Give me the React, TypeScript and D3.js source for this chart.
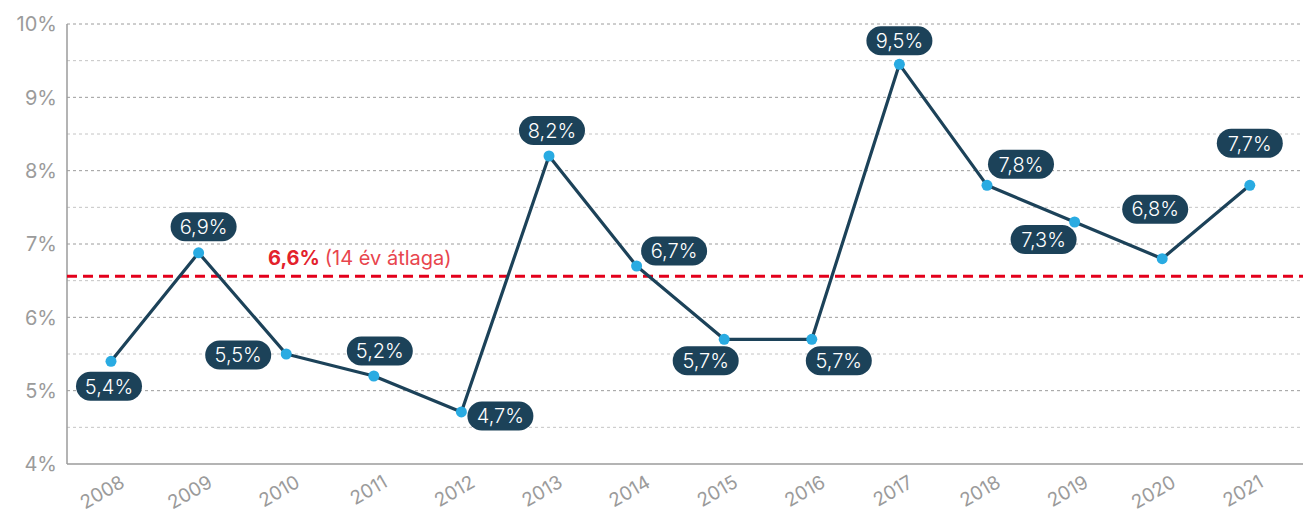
import React from "react";
import * as d3 from "d3";

const years = ["2008","2009","2010","2011","2012","2013","2014","2015","2016","2017","2018","2019","2020","2021"];
const values = [5.4, 6.88, 5.5, 5.2, 4.71, 8.2, 6.7, 5.7, 5.7, 9.45, 7.8, 7.3, 6.8, 7.8];
const labels = ["5,4%","6,9%","5,5%","5,2%","4,7%","8,2%","6,7%","5,7%","5,7%","9,5%","7,8%","7,3%","6,8%","7,7%"];
const yTicks = [4, 5, 6, 7, 8, 9, 10];
const yMinor = [4.5, 5.5, 6.5, 7.5, 8.5, 9.5];
const average = 6.56;
const averageLabel = "6,6%";
const averageNote = "(14 év átlaga)";

// label offsets (layout)
const labelOffsets: [number, number][] = [
  [-2, 25], [5, -26], [-48, 1], [6, -25], [39, 4], [3, -25.5], [37.5, -15],
  [-18.5, 21.5], [27, 21.5], [0, -23.5], [34, -21], [-31, 17.5], [-7, -49.5], [0, -42],
];

const W = 1303, H = 516;
const left = 67, right = 1303, top = 24, bottom = 464;
const FONT = "Inter, 'Noto Sans', sans-serif";

export default function App() {
  const x = d3.scalePoint<string>().domain(years).range([111, 111 + 87.6 * 13]);
  const y = d3.scaleLinear().domain([4, 10]).range([bottom, top]);
  const line = d3.line<number>().x((_, i) => x(years[i])!).y(d => y(d));
  const fmt = (d: number) => `${d}%`;
  return (
    <svg width={W} height={H} style={{ position: "absolute", left: 0, top: 0, background: "#fff" }} fontFamily={FONT}>
      {yMinor.map(t => (
        <line key={"m" + t} x1={left} x2={right} y1={y(t)} y2={y(t)} stroke="#c4c4c4" strokeWidth={1} strokeDasharray="3 3" />
      ))}
      {yTicks.filter(t => t > 4).map(t => (
        <line key={"g" + t} x1={left} x2={right} y1={y(t)} y2={y(t)} stroke="#9c9c9c" strokeWidth={1} strokeDasharray="3 3" />
      ))}
      {yTicks.map(t => (
        <text key={"t" + t} x={57} y={y(t)} dy="0.36em" textAnchor="end" fontSize={20} fill="#9b9b9b">{fmt(t)}</text>
      ))}
      <line x1={left} x2={left} y1={top} y2={bottom} stroke="#9b9b9b" strokeWidth={1.5} />
      <line x1={left} x2={right} y1={bottom} y2={bottom} stroke="#9b9b9b" strokeWidth={1.5} />
      {years.map(yr => (
        <text key={yr} transform={`translate(${x(yr)! + 15},${bottom + 22}) rotate(-30)`} textAnchor="end" fontSize={19} fill="#9b9b9b">{yr}</text>
      ))}
      <line x1={left} x2={right} y1={y(average)} y2={y(average)} stroke="#e3001b" strokeWidth={3} strokeDasharray="10 6" />
      <text x={268} y={y(average) - 11} fontSize={20} fill="#e3212b">
        <tspan fontWeight="bold">{averageLabel}</tspan>
        <tspan fill="#e8454d" dx={5}>{averageNote}</tspan>
      </text>
      <path d={line(values)!} fill="none" stroke="#1c4259" strokeWidth={3.2} strokeLinejoin="round" />
      {values.map((v, i) => (
        <circle key={"c" + i} cx={x(years[i])!} cy={y(v)} r={5.5} fill="#29abe2" />
      ))}
      {values.map((v, i) => {
        const cx = x(years[i])! + labelOffsets[i][0];
        const cy = y(v) + labelOffsets[i][1];
        return (
          <g key={"l" + i}>
            <rect x={cx - 33} y={cy - 14.5} width={66} height={29} rx={14.5} fill="#1c4259" />
            <text x={cx} y={cy} dy="0.36em" textAnchor="middle" fontSize={20} fontWeight={300} fill="#fff">{labels[i]}</text>
          </g>
        );
      })}
    </svg>
  );
}
